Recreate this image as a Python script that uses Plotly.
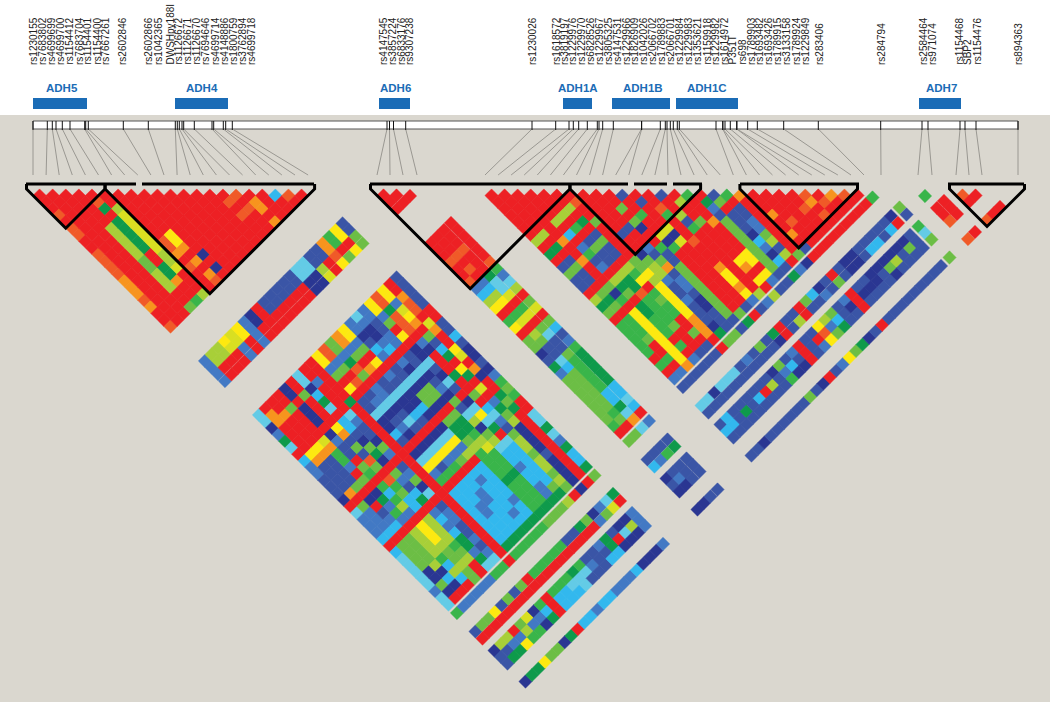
import plotly.graph_objects as go

# ---------- text ----------
SNP_LABELS = ["rs1230155","rs7683802","rs4699699","rs4699700","rs1154412","rs7683704","rs1154401","rs1154400","rs7667261","rs2602846","rs2602866","rs1042365","DWSHpy188I","rs1126672","rs1126671","rs1126670","rs7694646","rs4699714","rs4148886","rs1800759","rs3762894","rs4699718","rs4147545","rs3857224","rs6833176","rs9307238","rs1230026","rs1618572","rs3819197","rs1229976","rs1229970","rs6828526","rs1229967","rs3805325","rs4147531","rs1229966","rs1826909","rs1042026","rs2066702","rs1789883","rs2066701","rs1229984","rs1229983","rs1353621","rs1159918","rs1229982","rs1614972","P351T","rs698","rs1789903","rs1693482","rs1693426","rs1789915","rs3133158","rs1789924","rs1229849","rs283406","rs284794","rs2584464","rs971074","rs1154468","SBP2","rs1154476","rs894363"]
LABEL_X = [33,42,51,60,69,79,87,97,105,122,148,158,170,178,187,196,205,215,224,233,242,251,383,392,401,409,532,556,564,572,581,590,599,608,617,626,634,643,652,661,670,679,688,697,707,715,724,732,742,751,759,768,777,786,796,805,819,881,923,932,959,967,977,1018]
GENES = ["ADH5","ADH4","ADH6","ADH1A","ADH1B","ADH1C","ADH7"]
GENE_START = [33,175,379,563,612,676,919]
GENE_END = [87,228,410,592,670,738,961]
GENE_TEXT_X = [62,202,395,578,643,707,941]

# ---------- SNP positions: in the pairwise triangle and on the physical bar ----------
SNP_X = [33,46.1,59.2,72.3,85.4,98.5,111.6,124.7,137.8,150.9,164,177.1,190.2,203.3,216.4,229.5,242.6,255.7,268.8,281.9,295,308.1,
         377,390,403,417,
         485,498.1,511.1,524.2,537.3,550.4,563.4,576.5,589.6,602.6,615.7,628.8,641.8,654.9,668,681,694.1,707.2,720.3,733.3,746.4,759.5,772.5,785.6,798.7,811.8,824.8,837.9,851,864,
         881,918,932,956,969,982,1018]
BAR_TICKS = [33,47.3,52.3,56,62.3,70,84.7,85.7,88.3,123.3,148.3,175.3,177.3,179.3,182,183.7,194.3,212,213.7,223.3,225.7,232.3,
             387,389.5,393.5,405.7,
             532,555.7,569,573.3,578.7,587.3,597.3,599,602.7,613.3,641.5,641.7,660.3,665.3,667,670.3,673.3,677.3,679.3,716,722.7,722.9,725,730.3,736.7,736.9,747.7,757.3,783.7,818.3,
             880.7,922,928,960,965,976,1018]

A = list(range(0, 22)); B = list(range(22, 26)); C = list(range(26, 56))
D = [56]; E = [57, 58]; F = [59, 60, 61]; G = [62]

PALETTE = {"R":"#ED2024","T":"#F05A28","O":"#F7941E","Y":"#FDE910","L":"#D9DF21","K":"#A8CF38","M":"#6CBE45",
           "G":"#39B54A","D":"#0E9A4B","C":"#32B8EE","S":"#63CBE6","A":"#4279C4","B":"#3A55A6","N":"#2A3692"}

# ---------- LD values (colour class per SNP pair) ----------
AA = ["RRRTRTTRRTTTTOOOTORRT","R"*20,"R"*19,"RRRRRKKKKKMMKKKRRM","RTDRDDDDDRRDDORRG","RRKLLLLLLKKLRRRK",
      "RRRRRRRTTORTRRR","RRRRRRYYOROROT","RRRRRRRRRNRNR","R"*12,"R"*11,"R"*10,"R"*9,"R"*8,"RTRTRRR","TRTRRR","ROORO",
      "RRRR","CRR","TR","R"]
AB = ["AAAA","KKRR","KKRR","YLRR","LLAA","YYRR","AAAA","NNRR","RRRR","BBRR","BBRR","BBRR","BBRR","BBRR","SSNN","SSNN",
      "BBKL","BBRR","OOTY","GGRM","YYRY","BBMM"]
AC = ["SSNADSR CAABBBN RSAAACR CSSSSSASS",
      "ROORRRR YOBBBBO RMAAACR MMMMNNMNR",
      "RRORRRR YOBBBBM RNRBACR MMMMKNCNR",
      "RRMRRRR LOGGARM RNDAGAR KKKKGCKCR",
      "NNRNNNR NABBRMG RGCGKAR YYYKMMKMM",
      "RRMRRRR YOBMBTM RTGMCCR KKKKGMKRR",
      "SSNCDSR CCBNMDN RMABCDR ACACDDADS",
      "RRARRRR SABBNMA RBAMNSR BAABBABAS",
      "RRRRRRD RRRRRRR RRRRRRR RRRRRRRRR",
      "YYAMRYR BBSNNCB RNSYAGR CCCCCCCCD",
      "TTAMRTR BASNBAN RNSYBGR CCCAACCCD",
      "MMADTMR AASNBSB RNSYAGR CCAACCCCD",
      "OOAMROR BBSNNCB RNSYAMR CACCCCACD",
      "YYAMRYR ABSNNCN RNSYAKR CCCCCACCD",
      "AANBCAR BBSNMMN RMDDMKG GGGDGGGGD",
      "SANNACR ANSNMMN RMDDGKL GGGDGGGGD",
      "AABBAAR BBSNBAN MBSKNMK SCCACCAAD",
      "YYAMRYR NNSBNSB RNSYSDR SCCCCCCMD",
      "TTDTTTR ANRRRDR RMRCSAB MKKMKKMKM",
      "YYALYOR MBCDRYD RLRADMK NNNNBNNNN",
      "RROTTRL ORRYLRO NRRDMDR RRRRRRRRR",
      "BBBBBRR BBCBNNB NAGMGRR SSDSADCCD"]
AD = ["GAAAAAGGRGGGGGMMMKRNRM"]
AE = ["BMMYBMBMRGGGGGBBDMNASD", "RRRRRRRRRRRRRRRRRRAMLR"]
AF = ["NBB","KBD","KAD","RAY","MKG","LAG","NAN","GCD","RRR","GCC","GCC","GSC","DSS","GSB","BAB","BBB","ABC","DDC","BRN","NSN","NKN","AAA"]
AG = ["NDDYMMNDRCCACCAAACNNNA"]
BB = ["RRR","RR","R"]
BC = ["RRRTRRTACKYRGYRMMNBDAMMMMMMMGR",
      "RRRTRTRACKYRGLRKMBBSCMMMMMMGMR",
      "RRRTRRRDSSLRGLRMSBBMGGGGGCCDSO",
      "RRRRRRTGASKRMLRMCBAGDDDDDCCSCR"]
BD = ["MMSA"]
BE = ["BBBB","CAGD"]
BF = ["NBBB","BABB","NNBB"]
BG = ["NNBB"]
CC = ["RRRRRRRKRDRBMBBRKDMRGGGGGRGRA","RRRRRRKRDRBMBBRMDMRGGGMRRGRA","RRRRRRRORRORRRMNGRYYYYYYYYO",
      "RRRRKRCRAGBARKDMRDDGGGRGRA","RRRKRGRBMBBRKDDTGGGGMRRRB","RRKRDRBMBBRKGYRGMGGRRMRB","RTRRMRRRRRMMYKYYYYYOOOR",
      "RRRRRRBRRNMKKABBABBBND","RRRRRBRRABMOBAABNNBBB","RRMRMNRRGBBMMMMMMMMB","BRRGRRLNGRRRRRRRRRM","RBRRRLNLRRRRRRRRRB",
      "RRTGRRRTRRROYYOYA","BRRKBGRRRRRRRRRK","RKRRMRRRRRYORYR","GRRRORRRRYYRYA","RDABMMMMMMMMB","BMRBBBNCANCB","GRBBAAMKBKR",
      "ORRRRRRRRM","RRRORRORB","RRRRTRRR","RRRRRRR","RRTRRR","TORTR","RTRR","ORR","TR","R"]
CD = ["BBBBBBRMMBDRBAKBBDANRRRRRRRRRG"]
CE = ["SSNSSSBABMBDRBBRMCNBRBNNBBBBBN","BBBBBBBBBBBNRBKRBBABMBNNBCCBCR"]
CF = ["BCBBBBBBNMBARBBYKMBARBBNNNNNNB","CCBDBCRKBACBRBRTACBNRNNNBMKBMB","BBBBBBBBBGNNRBAYMDBBRBBBBNBBBB"]
CG = ["BBNBBBBBBMBNRBAYMDNBRBBBBBBBBB"]
DE = ["MB"]; DF = ["GSM"]; DG = ["M"]
EE = ["G"]; EF = ["RRT","RRR"]; EG = ["T","R"]
FF = ["TR","R"]; FG = ["T","R","R"]

cells = {}
def by_first(rows, firsts, seconds):
    for i, row in zip(firsts, rows):
        for j, c in zip(seconds, row.replace(" ", "")):
            cells[(i, j)] = c
def by_second(rows, firsts, seconds):
    for j, row in zip(seconds, rows):
        for i, c in zip(firsts, row):
            cells[(i, j)] = c
def triangle(rows, group):
    for n, row in enumerate(rows):
        for j, c in zip(group[n + 1:], row):
            cells[(group[n], j)] = c

triangle(AA, A); triangle(BB, B); triangle(CC, C); triangle(EE, E); triangle(FF, F)
by_first(AB, A, B); by_first(AC, A, C); by_first(AF, A, F); by_first(BC, B, C)
by_second(AD, A, D); by_second(AE, A, E); by_second(AG, A, G)
by_second(BD, B, D); by_second(BE, B, E); by_second(BF, B, F); by_second(BG, B, G)
by_second(CD, C, D); by_second(CE, C, E); by_second(CF, C, F); by_second(CG, C, G)
by_first(DE, D, E); by_first(DF, D, F); by_first(DG, D, G)
by_first(EF, E, F); by_first(EG, E, G); by_first(FG, F, G)

TOP = 189
cx = [(SNP_X[i] + SNP_X[j]) / 2 for (i, j) in cells]
cy = [TOP + (SNP_X[j] - SNP_X[i]) / 2 for (i, j) in cells]
cc = [PALETTE[v] for v in cells.values()]

BLOCKS = [(0,5),(6,21),(22,32),(33,42),(46,54),(59,62)]
TOP_SEGMENTS = [(26,136),(142,314),(370,628),(634,667),(673,702),(740,859),(948,1024)]

fig = go.Figure()
BG = "#DAD7CF"
INK = "#000000"

# cells, with a hairline of their own colour so neighbours close up
fig.add_trace(go.Scatter(x=cx, y=cy, mode="markers", hoverinfo="skip",
                         marker=dict(symbol="diamond", size=10.2, color=cc, line=dict(width=0.5, color=cc))))

# connector lines
lx, ly = [], []
for t, s in zip(BAR_TICKS, SNP_X):
    lx += [t, s, None]; ly += [129, 175, None]
fig.add_trace(go.Scatter(x=lx, y=ly, mode="lines", hoverinfo="skip", line=dict(color="#9A9892", width=1)))

# bar ticks
tx, ty = [], []
for t in BAR_TICKS:
    tx += [t, t, None]; ty += [121, 130, None]
fig.add_trace(go.Scatter(x=tx, y=ty, mode="lines", hoverinfo="skip", line=dict(color="#111111", width=1)))

# haplotype block outlines
bx, by = [], []
for a, b in BLOCKS:
    x0 = SNP_X[a] - 6.5; x1 = SNP_X[b] + 6.5
    bx += [x0, x0, (x0 + x1) / 2, x1, x1, None]
    by += [184, TOP, TOP + (x1 - x0) / 2, TOP, 184, None]
fig.add_trace(go.Scatter(x=bx, y=by, mode="lines", hoverinfo="skip", line=dict(color=INK, width=3)))
sx, sy = [], []
for a, b in TOP_SEGMENTS:
    sx += [a, b, None]; sy += [184, 184, None]
fig.add_trace(go.Scatter(x=sx, y=sy, mode="lines", hoverinfo="skip", line=dict(color=INK, width=3)))

shapes = [
    dict(type="rect", xref="x", yref="y", x0=0, x1=1050, y0=0, y1=115, fillcolor="#FFFFFF", line=dict(width=0), layer="below"),
    dict(type="rect", xref="x", yref="y", x0=33, x1=1018, y0=121, y1=129, fillcolor="#FFFFFF", line=dict(color="#555555", width=1), layer="below"),
]
for s, e in zip(GENE_START, GENE_END):
    shapes.append(dict(type="rect", xref="x", yref="y", x0=s, x1=e, y0=98, y1=109, fillcolor="#1B6CB6", line=dict(width=0)))

ann = []
for t, x in zip(SNP_LABELS, LABEL_X):
    ann.append(dict(text=t, x=x, y=67, xref="x", yref="y", textangle=-90, showarrow=False, xanchor="center", yanchor="bottom",
                    font=dict(family="Liberation Sans", size=10, color="#222222")))
for t, x in zip(GENES, GENE_TEXT_X):
    ann.append(dict(text="<b>%s</b>" % t, x=x, y=88, xref="x", yref="y", showarrow=False, xanchor="center", yanchor="middle",
                    font=dict(family="Liberation Sans", size=11.5, color="#1B6CB6")))

fig.update_layout(width=1050, height=702, margin=dict(l=0, r=0, t=0, b=0), paper_bgcolor=BG, plot_bgcolor=BG,
                  showlegend=False, shapes=shapes, annotations=ann,
                  xaxis=dict(range=[0, 1050], visible=False, fixedrange=True),
                  yaxis=dict(range=[702, 0], visible=False, fixedrange=True))
fig.write_html("out.html", config={"displayModeBar": False},
               post_script="document.body.style.margin='0';document.body.style.overflow='hidden';")
